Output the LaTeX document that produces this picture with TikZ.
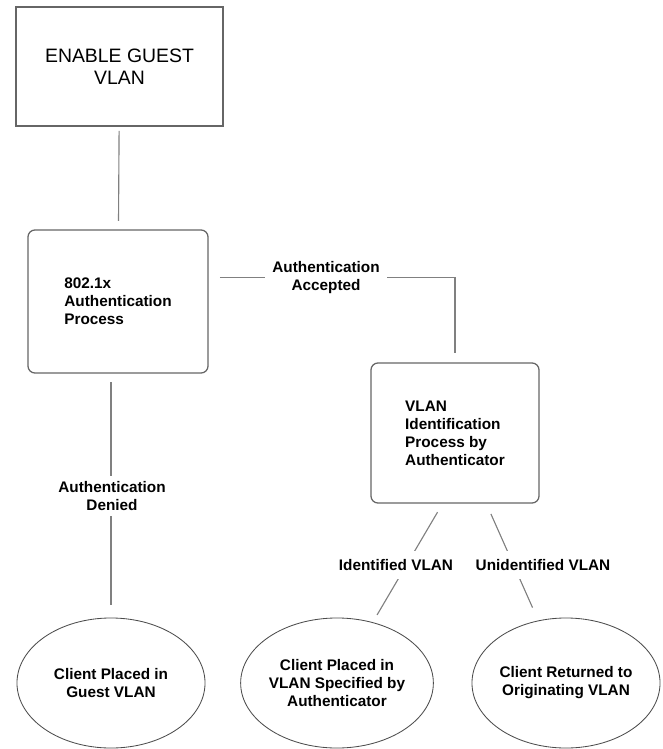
\documentclass[tikz,border=0pt]{standalone}
\usepackage{fontspec}
\setmainfont{Liberation Sans}
\usetikzlibrary{shapes.geometric,backgrounds}
\tikzset{
  link/.style={draw=black!50, line width=0.8pt},
  startbox/.style={draw=black!60, line width=0.9pt, minimum width=5.175cm, minimum height=2.975cm, align=center, font=\fontsize{13.8}{15.6}\selectfont},
  procbox/.style={draw=black!60, line width=0.9pt, rounded corners=5pt, align=left, font=\fontsize{10.9}{12.8}\selectfont\bfseries},
  resultell/.style={draw=black!70, line width=0.6pt, ellipse, inner sep=0pt, minimum width=4.7cm, minimum height=3.25cm, align=center, font=\fontsize{10.9}{12.8}\selectfont\bfseries},
  edgelabel/.style={fill=white, align=center, inner xsep=5pt, inner ysep=4pt, font=\fontsize{10.9}{12.8}\selectfont\bfseries}
}

\begin{document}
\begin{tikzpicture}[x=0.025cm, y=-0.025cm]
  \useasboundingbox (0,0) rectangle (663,749);
  % boxes
  \node[startbox] (enable) at (119.5,66.5) {ENABLE GUEST\\VLAN};
  \node[procbox, minimum width=4.5cm, minimum height=3.575cm] (auth) at (118,301.5) {802.1x\\Authentication\\Process};
  \node[procbox, minimum width=4.2cm, minimum height=3.5cm] (vlanid) at (455,433) {VLAN\\Identification\\Process by\\Authenticator};
  % outcomes
  \node[resultell] (guest) at (111,683) {Client Placed in\\Guest VLAN};
  \node[resultell] (specified) at (337,683) {Client Placed in\\VLAN Specified by\\Authenticator};
  \node[resultell] (original) at (566,683) {Client Returned to\\Originating VLAN};
  % labels on the lines
  \node[edgelabel] (accepted) at (326,278) {Authentication\\Accepted};
  \node[edgelabel] (denied) at (112,496) {Authentication\\Denied};
  \node[edgelabel, inner ysep=6pt] (identified) at (396,565) {Identified VLAN};
  \node[edgelabel, inner ysep=6pt] (unidentified) at (543,565) {Unidentified VLAN};
  \begin{scope}[on background layer]
    \draw[link, shorten <=3pt, shorten >=6pt] (enable) -- (auth);
    \draw[link, shorten <=8pt, shorten >=7pt] (auth.15) -| (vlanid.north);
    \draw[link, shorten <=6pt, shorten >=9pt] (auth.south -| guest) -- (guest);
    \draw[link, shorten <=7pt, shorten >=6pt] (vlanid.-100) -- (specified);
    \draw[link, shorten <=8pt, shorten >=10pt] (vlanid) -- (original);
  \end{scope}
\end{tikzpicture}
\end{document}
